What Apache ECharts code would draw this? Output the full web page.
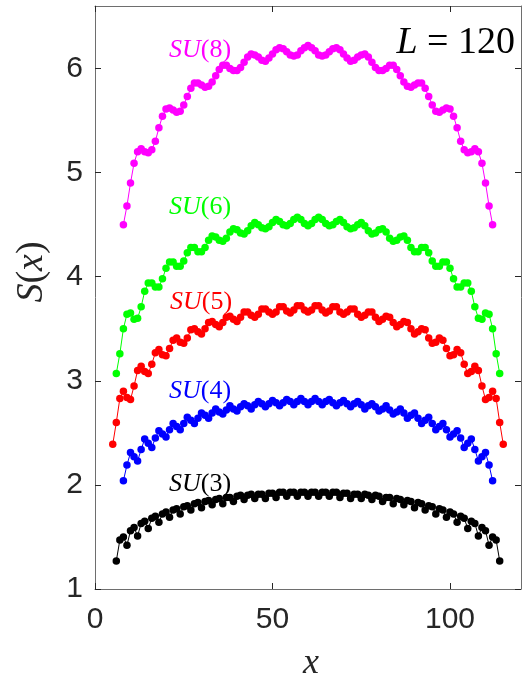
<!DOCTYPE html>
<html><head><meta charset="utf-8">
<script src="https://cdn.jsdelivr.net/npm/echarts@6/dist/echarts.min.js"></script>
<style>html,body{margin:0;padding:0;background:#fff}#c{width:527px;height:681px}</style>
</head><body><div id="c"></div>
<script>
// x positions start at these sites and advance by 1
const startSU8 = 8, startSU6 = 6, startSU5 = 5, startSU4 = 8, startSU3 = 6;

const su8 = [4.50,4.68,4.90,5.09,5.20,5.23,5.20,5.19,5.22,5.30,5.43,5.54,5.61,5.62,5.60,5.58,5.59,5.65,5.73,5.81,5.86,5.86,5.84,5.82,5.83,5.87,5.93,5.99,6.03,6.03,6.00,5.98,5.98,6.01,6.06,6.11,6.14,6.13,6.11,6.08,6.07,6.10,6.14,6.18,6.20,6.19,6.16,6.13,6.12,6.13,6.17,6.20,6.22,
  6.20,6.17,6.13,6.12,6.13,6.16,6.19,6.20,6.18,6.14,6.10,6.07,6.08,6.11,6.13,6.14,6.11,6.06,6.01,5.98,5.98,6.00,6.03,6.03,5.99,5.93,5.87,5.83,5.82,5.84,5.86,5.86,5.81,5.73,5.65,5.59,5.58,5.60,5.62,5.61,5.54,5.43,5.30,5.22,5.19,5.20,5.23,5.20,5.09,4.90,4.68,4.50];

const su6 = [3.07,3.26,3.50,3.64,3.65,3.59,3.60,3.71,3.86,3.94,3.94,3.90,3.90,3.98,4.08,4.14,4.14,4.10,4.10,4.15,4.23,4.28,4.28,4.24,4.24,4.28,4.35,4.39,4.38,4.35,4.34,4.37,4.43,4.46,4.45,4.42,4.41,4.44,4.49,4.52,4.50,4.47,4.46,4.48,4.52,4.55,4.53,4.50,4.49,4.51,4.55,4.57,4.55,4.51,4.49,
  4.51,4.55,4.57,4.55,4.51,4.49,4.50,4.53,4.55,4.52,4.48,4.46,4.47,4.50,4.52,4.49,4.44,4.41,4.42,4.45,4.46,4.43,4.37,4.34,4.35,4.38,4.39,4.35,4.28,4.24,4.24,4.28,4.28,4.23,4.15,4.10,4.10,4.14,4.14,4.08,3.98,3.90,3.90,3.94,3.94,3.86,3.71,3.60,3.59,3.65,3.64,3.50,3.26,3.07];

const su5 = [2.39,2.60,2.83,2.90,2.84,2.82,2.95,3.10,3.14,3.09,3.07,3.16,3.27,3.30,3.25,3.24,3.31,3.39,3.41,3.37,3.36,3.41,3.49,3.50,3.47,3.45,3.50,3.56,3.57,3.54,3.52,3.56,3.61,3.62,3.59,3.57,3.61,3.66,3.66,3.63,3.61,3.64,3.69,3.69,3.66,3.64,3.66,3.71,3.71,3.67,3.65,3.68,3.72,3.72,3.68,3.66,
  3.68,3.72,3.72,3.68,3.65,3.67,3.71,3.71,3.66,3.64,3.66,3.69,3.69,3.64,3.61,3.63,3.66,3.66,3.61,3.57,3.59,3.62,3.61,3.56,3.52,3.54,3.57,3.56,3.50,3.45,3.47,3.50,3.49,3.41,3.36,3.37,3.41,3.39,3.31,3.24,3.25,3.30,3.27,3.16,3.07,3.09,3.14,3.10,2.95,2.82,2.84,2.90,2.83,2.60,2.39];

const su4 = [2.04,2.19,2.31,2.27,2.23,2.34,2.44,2.40,2.36,2.45,2.52,2.49,2.46,2.53,2.59,2.56,2.53,2.59,2.65,2.62,2.59,2.64,2.69,2.67,2.64,2.69,2.73,2.70,2.68,2.72,2.76,2.73,2.71,2.75,2.78,2.76,2.73,2.77,2.80,2.78,2.75,2.78,2.81,2.79,2.76,2.79,2.82,2.80,2.77,2.80,2.83,2.80,2.77,
  2.80,2.83,2.80,2.77,2.80,2.82,2.79,2.76,2.79,2.81,2.78,2.75,2.78,2.80,2.77,2.73,2.76,2.78,2.75,2.71,2.73,2.76,2.72,2.68,2.70,2.73,2.69,2.64,2.67,2.69,2.64,2.59,2.62,2.65,2.59,2.53,2.56,2.59,2.53,2.46,2.49,2.52,2.45,2.36,2.40,2.44,2.34,2.23,2.27,2.31,2.19,2.04];

const su3 = [1.27,1.47,1.50,1.42,1.56,1.59,1.51,1.63,1.65,1.58,1.68,1.70,1.64,1.72,1.74,1.69,1.76,1.77,1.72,1.79,1.80,1.76,1.82,1.83,1.78,1.84,1.85,1.81,1.86,1.87,1.82,1.88,1.88,1.84,1.89,1.90,1.86,1.90,1.91,1.87,1.91,1.91,1.87,1.92,1.92,1.88,1.93,1.93,1.89,1.93,1.93,1.89,1.93,1.93,1.89,
  1.93,1.93,1.89,1.93,1.93,1.89,1.93,1.93,1.88,1.92,1.92,1.87,1.91,1.91,1.87,1.91,1.90,1.86,1.90,1.89,1.84,1.88,1.88,1.82,1.87,1.86,1.81,1.85,1.84,1.78,1.83,1.82,1.76,1.80,1.79,1.72,1.77,1.76,1.69,1.74,1.72,1.64,1.70,1.68,1.58,1.65,1.63,1.51,1.59,1.56,1.42,1.50,1.47,1.27];

const xTicks = [0, 50, 100];
const yTicks = [1, 2, 3, 4, 5, 6];

const seriesDefs = [
  {name: 'SU(8)', start: startSU8, vals: su8, color: '#ff00ff'},
  {name: 'SU(6)', start: startSU6, vals: su6, color: '#00ff00'},
  {name: 'SU(5)', start: startSU5, vals: su5, color: '#ff0000'},
  {name: 'SU(4)', start: startSU4, vals: su4, color: '#0000ff'},
  {name: 'SU(3)', start: startSU3, vals: su3, color: '#000000'}
];

const chart = echarts.init(document.getElementById('c'), null, {renderer: 'canvas'});
const axisCol = '#262626';
const lineCol = '#6e6e6e';
const tickFont = {fontFamily: 'Liberation Sans, Arial, sans-serif', fontSize: 30, color: axisCol};

function xAx(pos, showLabel) {
  return {
    type: 'value', position: pos, min: 0, max: 120,
    axisLine: {show: true, onZero: false, lineStyle: {color: lineCol, width: 1}},
    axisTick: {show: true, inside: true, length: 6, customValues: xTicks, lineStyle: {color: axisCol}},
    axisLabel: Object.assign({show: showLabel, margin: 16, customValues: xTicks}, tickFont),
    splitLine: {show: false}
  };
}
function yAx(pos, showLabel) {
  return {
    type: 'value', position: pos, min: 1, max: 6.6,
    axisLine: {show: true, onZero: false, lineStyle: {color: lineCol, width: 1}},
    axisTick: {show: true, inside: true, length: 6, customValues: yTicks, lineStyle: {color: axisCol}},
    axisLabel: Object.assign({show: showLabel, margin: 12, customValues: yTicks}, tickFont),
    splitLine: {show: false}
  };
}

const serif = 'Liberation Serif, Times New Roman, serif';
const labelPos = [
  {name: '8', color: '#ff00ff', x: 200, y: 50},
  {name: '6', color: '#00ff00', x: 200, y: 207},
  {name: '5', color: '#ff0000', x: 201, y: 302},
  {name: '4', color: '#0000ff', x: 200, y: 391},
  {name: '3', color: '#000000', x: 200, y: 484}
];

const graphics = labelPos.map(l => ({
  type: 'text', x: l.x, y: l.y,
  style: {
    text: '{i|SU}{r|(' + l.name + ')}',
    align: 'center', verticalAlign: 'middle',
    rich: {
      i: {fontFamily: serif, fontStyle: 'italic', fontSize: 26, fill: l.color},
      r: {fontFamily: serif, fontSize: 26, fill: l.color}
    }
  }
}));
graphics.push({
  type: 'text', x: 515, y: 43,
  style: {
    text: '{i|L}{r| = 120}', align: 'right', verticalAlign: 'middle',
    rich: {
      i: {fontFamily: serif, fontStyle: 'italic', fontSize: 38, fill: '#000'},
      r: {fontFamily: serif, fontSize: 38, fill: '#000'}
    }
  }
});
graphics.push({
  type: 'text', x: 311, y: 664,
  style: {text: 'x', align: 'center', verticalAlign: 'middle', fontFamily: serif, fontStyle: 'italic', fontSize: 36, fill: axisCol}
});
graphics.push({
  type: 'text', x: 32, y: 272, rotation: Math.PI / 2,
  style: {
    text: '{i|S}{r|(}{i|x}{r|)}', align: 'center', verticalAlign: 'middle',
    rich: {
      i: {fontFamily: serif, fontStyle: 'italic', fontSize: 38, fill: axisCol},
      r: {fontFamily: serif, fontSize: 38, fill: axisCol}
    }
  }
});

chart.setOption({
  animation: false,
  backgroundColor: '#fff',
  grid: {left: 95, right: 6, top: 6, bottom: 92, containLabel: false},
  xAxis: [xAx('bottom', true), xAx('top', false)],
  yAxis: [yAx('left', true), yAx('right', false)],
  series: seriesDefs.map(s => ({
    name: s.name, type: 'line', xAxisIndex: 0, yAxisIndex: 0,
    data: s.vals.map((v, i) => [s.start + i, v]),
    symbol: 'circle', symbolSize: 7.5, showSymbol: true,
    lineStyle: {color: s.color, width: 1},
    itemStyle: {color: s.color},
    emphasis: {disabled: true}
  })),
  graphic: graphics
});
</script></body></html>
